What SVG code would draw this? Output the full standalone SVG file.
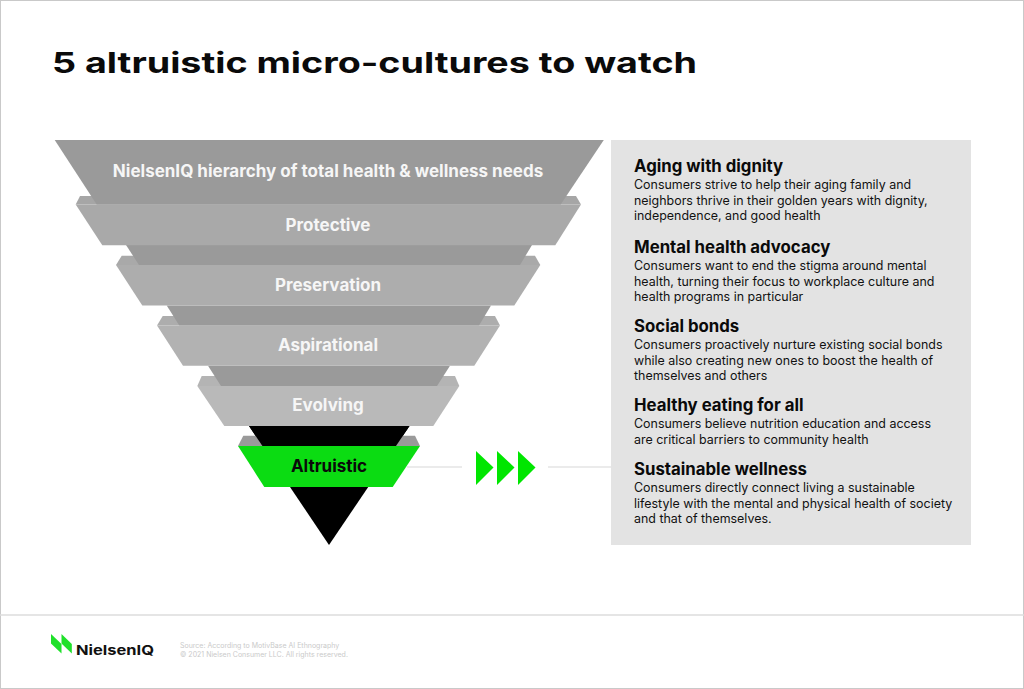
<svg xmlns="http://www.w3.org/2000/svg" width="1024" height="689" viewBox="0 0 1024 689">
<style>
.band{fill:#9a9a9a}
.lip{fill:#a6a6a6}
.front1{fill:#a9a9a9}
.front2{fill:#adadad}
.front3{fill:#b2b2b2}
.front4{fill:#b9b9b9}
text{font-family:"Inter","Liberation Sans",sans-serif}
.lbl{font-size:17px;font-weight:700;fill:#f6f6f6;text-anchor:middle}
.h{font-size:16.8px;font-weight:700;fill:#0a0a0a}
.b{font-size:12.45px;font-weight:400;fill:#111}
.src{font-size:7px;fill:#cacaca}
</style>
<rect x="0.5" y="0.5" width="1023" height="688" fill="#fff" stroke="#c9c9c9"/>
<line x1="0" y1="615" x2="1024" y2="615" stroke="#dcdcdc" stroke-width="1.4"/>
<text x="52" y="72.5" font-size="28.5" font-weight="700" fill="#0a0a0a" textLength="645" lengthAdjust="spacingAndGlyphs">5 altruistic micro-cultures to watch</text>
<g id="connectors">
<line x1="407" y1="467" x2="462" y2="467" stroke="#e4e4e4" stroke-width="1.4"/>
<line x1="548" y1="467" x2="611" y2="467" stroke="#e4e4e4" stroke-width="1.4"/>
</g>
<g id="arrows" fill="#00e600">
<polygon points="476,451 493.5,467.5 476,485"/>
<polygon points="497,451 514.5,467.5 497,485"/>
<polygon points="518,451 535.5,467.5 518,485"/>
</g>
<g id="apex"><polygon points="249,426 409.5,426 329,545" fill="#000"/></g>
<g id="node-altruistic">
<polygon fill="#9a9a9a" points="243.3,435.7 415,435.7 420,446 238,446"/>
<polygon points="249,426 409.5,426 329,545" fill="#000" clip-path="url(#c)"/>
<polygon fill="#0bdc12" points="238,446 420,446 392.7,487 264.3,487"/>
<text x="329" y="472" class="lbl" style="fill:#0a0a0a">Altruistic</text>
</g>
<clipPath id="c"><rect x="200" y="426" width="260" height="20"/></clipPath>
<g id="node-evolving">
<polygon class="lip" points="201.7,376 455,376 459.3,386 197.3,386" style="fill:#b4b4b4"/>
<polygon class="band" points="208,365.7 450,365.7 437,386 221,386"/>
<polygon class="front4" points="197.3,386 459.3,386 433.3,426 224.3,426"/>
<text x="328" y="411" class="lbl">Evolving</text>
</g>
<g id="node-aspirational">
<polygon class="lip" points="162.7,316 495,316 500,325.5 157,325.5" style="fill:#adadad"/>
<polygon class="band" points="166.7,305.5 491,305.5 479,325.5 179.3,325.5"/>
<polygon class="front3" points="157,325.5 500,325.5 474.3,365.7 183,365.7"/>
<text x="328" y="351" class="lbl">Aspirational</text>
</g>
<g id="node-preservation">
<polygon class="lip" points="121.7,255.7 535,255.7 540.3,265 116,265" style="fill:#a9a9a9"/>
<polygon class="band" points="126,245 532,245 520,265 139,265"/>
<polygon class="front2" points="116,265 540.3,265 514.3,305.5 142.3,305.5"/>
<text x="328" y="291" class="lbl">Preservation</text>
</g>
<g id="node-protective">
<polygon class="lip" points="80,196 576,196 581,204.5 75.7,204.5"/>
<polygon class="front1" points="75.7,204.5 581,204.5 555.3,245.3 102.3,245.3"/>
<text x="328" y="230.5" class="lbl">Protective</text>
</g>
<g id="node-hierarchy">
<polygon points="54.7,140 603.8,140 560.7,204.5 96.7,204.5" fill="#9a9a9a"/>
<text x="328" y="177" class="lbl">NielsenIQ hierarchy of total health &amp; wellness needs</text>
</g>
<g id="panel">
<rect x="611" y="140" width="360" height="405" fill="#e3e3e3"/>
<text class="h" x="634" y="172">Aging with dignity</text>
<text class="b" x="634" y="189">Consumers strive to help their aging family and</text>
<text class="b" x="634" y="205">neighbors thrive in their golden years with dignity,</text>
<text class="b" x="634" y="220">independence, and good health</text>
<text class="h" x="634" y="253">Mental health advocacy</text>
<text class="b" x="634" y="270">Consumers want to end the stigma around mental</text>
<text class="b" x="634" y="286">health, turning their focus to workplace culture and</text>
<text class="b" x="634" y="301">health programs in particular</text>
<text class="h" x="634" y="332">Social bonds</text>
<text class="b" x="634" y="349">Consumers proactively nurture existing social bonds</text>
<text class="b" x="634" y="365">while also creating new ones to boost the health of</text>
<text class="b" x="634" y="380">themselves and others</text>
<text class="h" x="634" y="411">Healthy eating for all</text>
<text class="b" x="634" y="428">Consumers believe nutrition education and access</text>
<text class="b" x="634" y="444">are critical barriers to community health</text>
<text class="h" x="634" y="475">Sustainable wellness</text>
<text class="b" x="634" y="492">Consumers directly connect living a sustainable</text>
<text class="b" x="634" y="508">lifestyle with the mental and physical health of society</text>
<text class="b" x="634" y="523">and that of themselves.</text>
</g>
<g id="logo">
<polygon fill="#1fe02a" points="51,634 61.5,644 61.5,653.5 51,643.5"/>
<polygon fill="#1fe02a" points="61.5,634 71.8,644 71.8,653.5 61.5,643.5"/>
<text x="76" y="654.5" font-size="13.5" font-weight="700" fill="#111" textLength="78" lengthAdjust="spacingAndGlyphs">NielsenIQ</text>
</g>
<g id="source">
<text class="src" x="180" y="648">Source: According to MotivBase AI Ethnography</text>
<text class="src" x="180" y="657">© 2021 Nielsen Consumer LLC. All rights reserved.</text>
</g>
</svg>
